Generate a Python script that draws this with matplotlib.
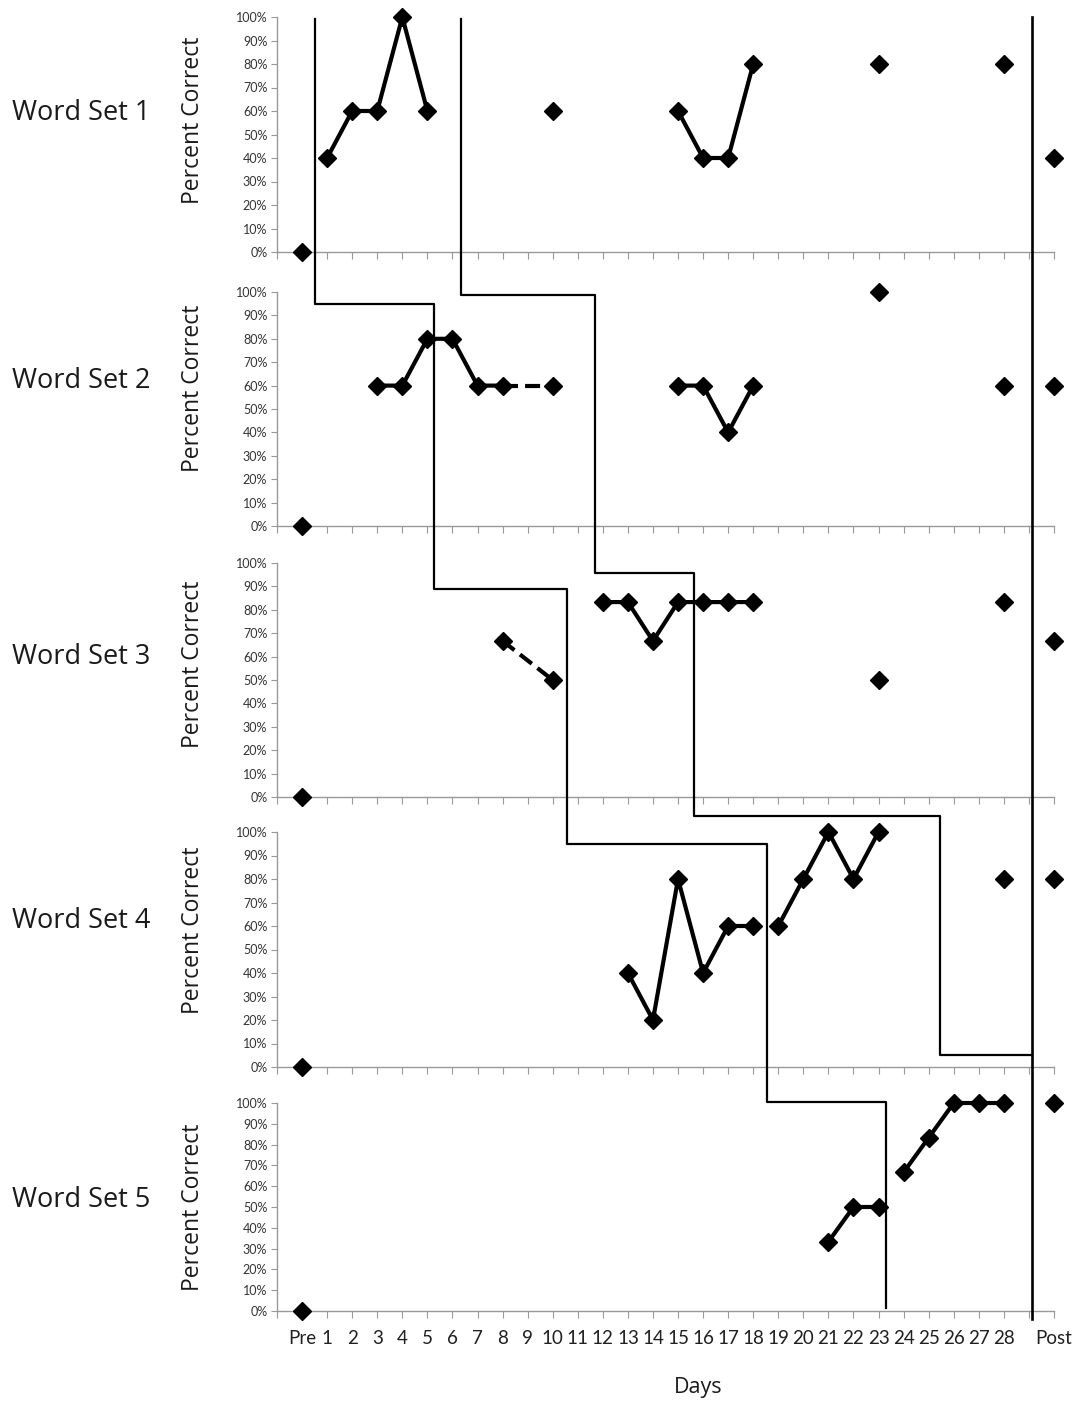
import numpy as np
import matplotlib
matplotlib.use('Agg')
from matplotlib import pyplot as plt
from matplotlib.lines import Line2D

# x positions: Pre = 0, days 1..28, blank slot 29, Post = 30
tick_pos = list(range(-1, 31))
tick_labels = [''] + ['Pre'] + [str(d) for d in range(1, 29)] + ['', 'Post']

set_names = ['Word Set 1', 'Word Set 2', 'Word Set 3', 'Word Set 4', 'Word Set 5']

ws1_days = [0, 1, 2, 3, 4, 5, 10, 15, 16, 17, 18, 23, 28, 30]
ws1_vals = [0, 40, 60, 60, 100, 60, 60, 60, 40, 40, 80, 80, 80, 40]
ws1_solid = [(1, 5), (15, 18)]
ws1_dashed = []

ws2_days = [0, 3, 4, 5, 6, 7, 8, 10, 15, 16, 17, 18, 23, 28, 30]
ws2_vals = [0, 60, 60, 80, 80, 60, 60, 60, 60, 60, 40, 60, 100, 60, 60]
ws2_solid = [(3, 8), (15, 18)]
ws2_dashed = [(8, 10)]

ws3_days = [0, 8, 10, 12, 13, 14, 15, 16, 17, 18, 23, 28, 30]
ws3_vals = [0, 66.7, 50, 83.3, 83.3, 66.7, 83.3, 83.3, 83.3, 83.3, 50, 83.3, 66.7]
ws3_solid = [(12, 18)]
ws3_dashed = [(8, 10)]

ws4_days = [0, 13, 14, 15, 16, 17, 18, 19, 20, 21, 22, 23, 28, 30]
ws4_vals = [0, 40, 20, 80, 40, 60, 60, 60, 80, 100, 80, 100, 80, 80]
ws4_solid = [(13, 18), (19, 23)]
ws4_dashed = []

ws5_days = [0, 21, 22, 23, 24, 25, 26, 27, 28, 30]
ws5_vals = [0, 33.3, 50, 50, 66.7, 83.3, 100, 100, 100, 100]
ws5_solid = [(21, 23), (24, 28)]
ws5_dashed = []

all_days = [ws1_days, ws2_days, ws3_days, ws4_days, ws5_days]
all_vals = [ws1_vals, ws2_vals, ws3_vals, ws4_vals, ws5_vals]
all_solid = [ws1_solid, ws2_solid, ws3_solid, ws4_solid, ws5_solid]
all_dashed = [ws1_dashed, ws2_dashed, ws3_dashed, ws4_dashed, ws5_dashed]

# phase change lines: (panel, x, y%)
phase_a = [(0, 0.52, 99), (1, 0.52, 95), (1, 5.26, 95), (2, 5.26, 89), (2, 10.57, 89),
           (3, 10.57, 95), (3, 18.55, 95), (4, 18.55, 100.5), (4, 23.29, 100.5), (4, 23.29, 1.5)]
phase_b = [(0, 6.34, 99), (1, 6.34, 98.7), (1, 11.68, 98.7), (2, 11.68, 95.7), (2, 15.63, 95.7),
           (3, 15.63, 106.8), (3, 25.45, 106.8), (3, 25.45, 5.1), (3, 29.12, 5.1)]
phase_c = [(0, 29.12, 100), (4, 29.12, -4)]

W, H = 1078, 1403
fig = plt.figure(figsize=(W / 100, H / 100), dpi=100)

# panel pixel extents (top of 100%, 0% line)
panels_px = [(17, 252), (292, 526), (563, 797), (832, 1067), (1103, 1311)]
label_frac = [0.56, 0.59, 0.565, 0.58, 0.5]
name_px = [113, 381, 657, 921, 1200]

axes = []
for i, (top, bot) in enumerate(panels_px):
    ax = fig.add_axes([277 / W, 1 - bot / H, (1054 - 277) / W, (bot - top) / H])
    axes.append(ax)
    days = np.array(all_days[i])
    vals = np.array(all_vals[i])

    for a, b in all_solid[i]:
        m = (days >= a) & (days <= b)
        ax.plot(days[m], vals[m], color='black', lw=3, clip_on=False, zorder=3)
    for a, b in all_dashed[i]:
        m = (days == a) | (days == b)
        ax.plot(days[m], vals[m], color='black', lw=3, ls=(0, (3.6, 1.7)), clip_on=False, zorder=3)
    ax.plot(days, vals, ls='none', marker='D', ms=9, color='black', clip_on=False, zorder=4)

    ax.set_xlim(-1, 30)
    ax.set_ylim(0, 100)
    ax.set_yticks(range(0, 101, 10))
    ax.set_yticklabels([f'{v}%' for v in range(0, 101, 10)], fontsize=9, color='#333333',
                       family=['Lato', 'DejaVu Sans'])
    ax.set_xticks(tick_pos)
    if i == 4:
        ax.set_xticklabels(tick_labels, fontsize=13.5, color='#202020',
                           family=['Lato', 'DejaVu Sans'])
    else:
        ax.set_xticklabels([])
    ax.tick_params(axis='x', direction='out', length=5, width=0.8, color='#999999', pad=9)
    ax.tick_params(axis='y', direction='out', length=4, width=0.8, color='#999999', pad=3)
    for s in ['top', 'right']:
        ax.spines[s].set_visible(False)
    for s in ['left', 'bottom']:
        ax.spines[s].set_color('#999999')
        ax.spines[s].set_linewidth(1)
    ax.patch.set_alpha(0)

    ax.text((193 - 277) / 777, label_frac[i], 'Percent Correct', rotation=90, ha='center',
            va='center', transform=ax.transAxes, fontsize=16.5, family='Open Sans', color='#1a1a1a')
    fig.text(12 / W, 1 - name_px[i] / H, set_names[i], ha='left', va='center',
             fontsize=19.5, family='Open Sans', color='#1a1a1a')

fig.text(698 / W, 1 - 1388 / H, 'Days', ha='center', va='center', fontsize=15.5,
         family='Open Sans', color='#1a1a1a')


def to_fig(pts):
    inv = fig.transFigure.inverted()
    out = [inv.transform(axes[p].transData.transform((x, y))) for p, x, y in pts]
    return np.array(out)


for pts, lw in [(phase_a, 1.6), (phase_b, 1.6), (phase_c, 1.9)]:
    xy = to_fig(pts)
    fig.add_artist(Line2D(xy[:, 0], xy[:, 1], color='black', lw=lw, transform=fig.transFigure,
                          zorder=5))

fig.savefig('out.png', dpi=100, facecolor='white')
